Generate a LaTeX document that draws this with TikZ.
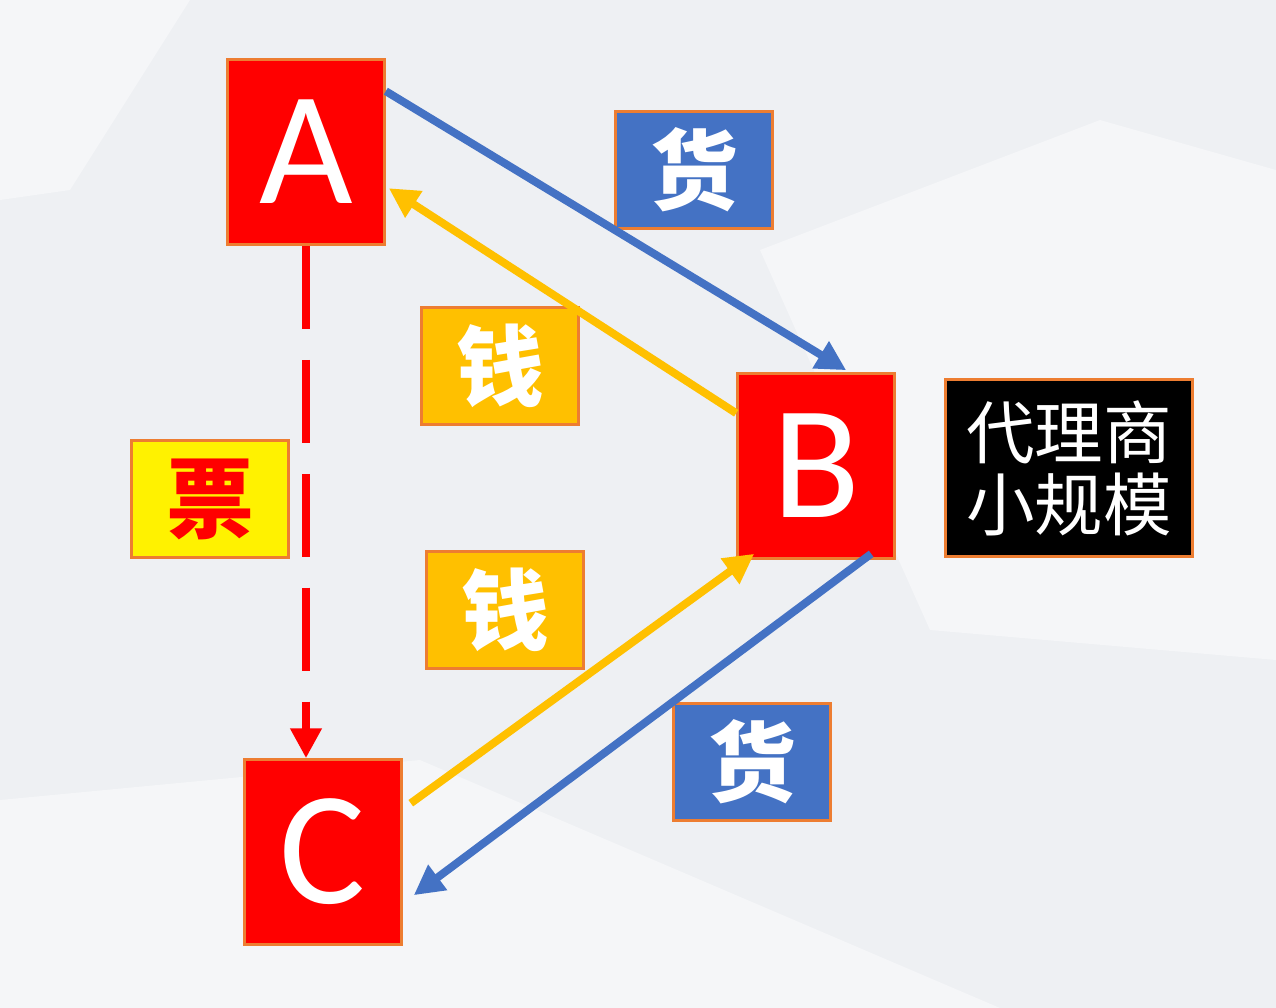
\documentclass[tikz,border=0pt]{standalone}
\usepackage{fontspec}
\setmainfont{Carlito}
\newfontfamily\cjk{Noto Sans CJK SC}
\usetikzlibrary{arrows.meta,calc,positioning}
\usepackage{xcolor}
\definecolor{boxred}{HTML}{FF0000}
\definecolor{edgeorange}{HTML}{ED7D31}
\definecolor{goodsblue}{HTML}{4472C4}
\definecolor{moneygold}{HTML}{FFC000}
\definecolor{bgray}{HTML}{EEF0F3}
\definecolor{bglight}{HTML}{F5F6F8}

\begin{document}
\begin{tikzpicture}[x=0.02cm, y=-0.02cm]
      \tikzstyle{party} = [rectangle, draw=edgeorange, line width=1.5pt, fill=boxred, text=white, minimum width=3.14cm, minimum height=3.7cm, inner sep=0pt, font=\fontsize{92}{92}\selectfont]
      \tikzstyle{tag} = [rectangle, draw=edgeorange, line width=1.7pt, minimum width=3.16cm, minimum height=2.34cm, inner sep=0pt, font=\cjk\bfseries\fontsize{50}{50}\selectfont]
      \tikzstyle{flow} = [line width=4.5pt, -{Triangle[length=17pt, width=17pt]}]

      % background
      \fill[bgray] (0,0) rectangle (1276,1008);
      \fill[bglight] (0,0) -- (190,0) -- (70,190) -- (0,200) -- cycle;
      \fill[bglight] (760,250) -- (1100,120) -- (1276,170) -- (1276,660) -- (930,630) -- cycle;
      \fill[bglight] (0,1008) -- (0,800) -- (420,760) -- (1000,1008) -- cycle;
      \useasboundingbox (0,0) rectangle (1276,1008);

      \node[party] (supplier) at (306,152) {A};
      \node[party] (agent) at (816,466) {B};
      \node[party] (buyer) at (323,852) {C};

      \node[tag, fill=goodsblue, text=white] (goodsup) at (694,170) {货};
      \node[tag, fill=moneygold, text=white] (moneyup) at (500,366) {钱};
      \node[tag, fill=yellow, text=boxred] (invoice) at (210,499) {票};
      \node[tag, fill=moneygold, text=white] (moneydown) at (505,610) {钱};
      \node[tag, fill=goodsblue, text=white] (goodsdown) at (752,762) {货};
      \node[rectangle, draw=edgeorange, line width=1.7pt, fill=black, text=white, minimum width=4.94cm, minimum height=3.56cm, align=center, font=\cjk\fontsize{39}{41}\selectfont] (scale) at (1069,468) {代理商\\小规模};

      \draw[flow, goodsblue] ($(supplier.north east)+(0,33)$) -- ($(agent.north west)+(110,-2)$);
      \draw[flow, moneygold] ($(agent.north west)+(0,41)$) -- ($(supplier.north east)+(3,130)$);
      \draw[flow, boxred, line width=5pt, dash pattern=on 1.66cm off 0.62cm] (supplier.south) -- (supplier.south |- buyer.north);
      \draw[flow, moneygold] ($(buyer.north east)+(8,45)$) -- ($(agent.south west)+(18,-6)$);
      \draw[flow, goodsblue] ($(agent.south west)+(135,-6)$) -- ($(buyer.north east)+(11,137)$);
    \end{tikzpicture}
\end{document}
